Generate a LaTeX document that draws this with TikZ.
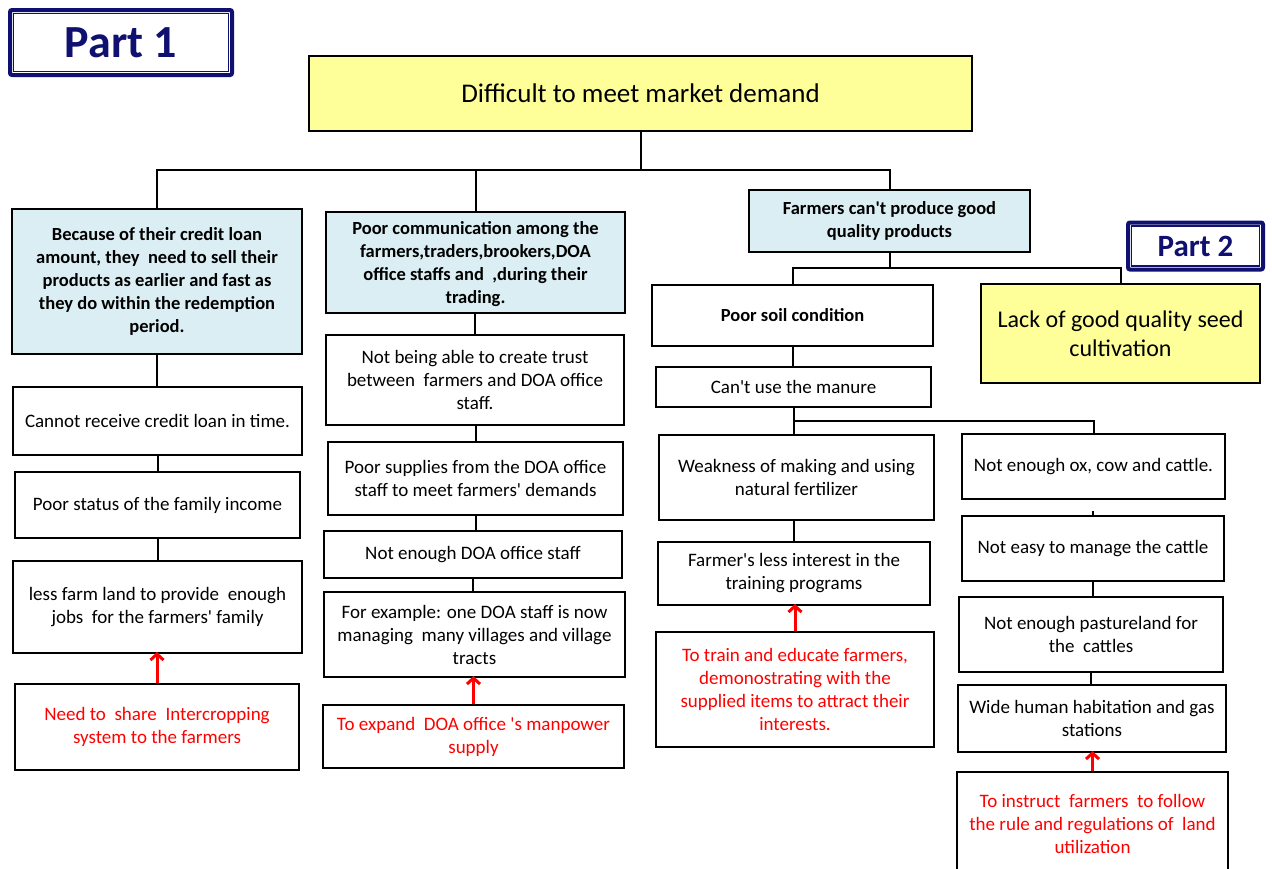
\documentclass[tikz,border=0pt]{standalone}
\usepackage{fontspec}
\setmainfont{Carlito}
\usetikzlibrary{arrows.meta}
\definecolor{seedyellow}{RGB}{255,255,153}
\definecolor{headblue}{RGB}{219,238,244}
\definecolor{partnavy}{RGB}{16,16,112}
\newcommand\ap{\textquotesingle}
\tikzset{
  box/.style={draw=black, line width=2pt, fill=white, align=center, inner sep=2pt,
              font=\fontsize{19}{23}\selectfont},
  headbox/.style={box, fill=headblue, font=\bfseries\fontsize{18.5}{23}\selectfont},
  goalbox/.style={box, fill=seedyellow},
  fixbox/.style={box, text=red},
  link/.style={line width=2pt},
  lift/.style={draw=red, line width=3pt, -{Straight Barb[length=6pt,width=13pt]}},
  partbox/.style={draw=partnavy, line width=4pt, rounded corners=2pt, fill=white,
                  text=partnavy, font=\bfseries},
  partinner/.style={draw=partnavy, line width=1.2pt},
  wh/.style 2 args={minimum width=#1pt, minimum height=#2pt}
}
\begin{document}
\begin{tikzpicture}[x=1pt, y=-1pt]
\fill[white] (0,0) rectangle (1272,868);
\useasboundingbox (0,0) rectangle (1272,868);

% part labels: thick outer frame with a thin inner frame
\node[partbox, wh={222}{65}, font=\bfseries\fontsize{46}{50}\selectfont] (part1) at (121,42.5) {Part 1};
\draw[partinner] ([shift={(5.5,5.5)}]part1.north west) rectangle ([shift={(-5.5,-5.5)}]part1.south east);
\node[partbox, wh={135}{47}, font=\bfseries\fontsize{31}{34}\selectfont] (part2) at (1195.5,246) {Part 2};
\draw[partinner] ([shift={(5.5,5.5)}]part2.north west) rectangle ([shift={(-5.5,-5.5)}]part2.south east);

% root problem
\node[goalbox, wh={663}{75}, font=\fontsize{27}{30}\selectfont] (top) at (640.5,93.5) {Difficult to meet market demand};

% main causes
\node[headbox, wh={290}{145}] (c1) at (157,281.5) {Because of their credit loan\\ amount, they\ \ need to sell their\\ products as earlier and fast as\\ they do within the redemption\\ period.};
\node[headbox, wh={299}{101}] (c2) at (475.5,262.5) {\rule{0pt}{16pt}Poor communication among the\\ farmers,traders,brookers,DOA\\ office staffs and\ \ ,during their\\ trading.};
\node[headbox, wh={281}{62}] (c3) at (889.5,221) {Farmers can\ap t produce good\\ quality products};

% branch 1
\node[box, wh={289}{68}] (cannot) at (157.5,421) {Cannot receive credit loan in time.};
\node[box, wh={285}{66}] (status) at (157.5,505) {Poor status of the family income};
\node[box, wh={289}{92}] (lessfarm) at (157.5,607) {less farm land to provide\ \ enough\\ jobs\ \ for the farmers\ap\ family};
\node[fixbox, wh={284}{86}] (need) at (157,727) {Need to\ \ share\ \ Intercropping\\ system to the farmers};

% branch 2
\node[box, wh={298}{90}] (trust) at (475,380) {Not being able to create trust\\ between\ \ farmers and DOA office\\ staff.};
\node[box, wh={295}{73}] (supplies) at (475.5,478.5) {Poor supplies from the DOA office\\ staff to meet farmers\ap\ demands};
\node[box, wh={298}{47}] (notenough) at (473,554.5) {Not enough DOA office staff};
\node[box, wh={301}{85}] (example) at (474.5,634.5) {For example: one DOA staff is now\\ managing\ \ many villages and village\\ tracts};
\node[fixbox, wh={301}{63}] (expand) at (473.5,736.5) {To expand\ \ DOA office \ap s manpower\\ supply};

% branch 3
\node[box, wh={281}{61}, font=\bfseries\fontsize{18.5}{23}\selectfont] (soil) at (792.5,315.5) {Poor soil condition};
\node[goalbox, wh={279}{99}, font=\fontsize{24}{29}\selectfont] (seed) at (1120.5,333.5) {Lack of good quality seed\\ cultivation};
\node[box, wh={275}{40}] (manure) at (793.5,387) {Can\ap t use the manure};
\node[box, wh={275}{85}] (weak) at (796.5,477.5) {Weakness of making and using\\ natural fertilizer};
\node[box, wh={272}{63}] (interest) at (794,573.5) {Farmer\ap s less interest in the\\ training programs};
\node[fixbox, wh={278}{115}] (train) at (795,689.5) {To train and educate farmers,\\ demonostrating with the\\ supplied items to attract their\\ interests.};
\node[box, wh={263}{65}] (ox) at (1093.5,466.5) {Not enough ox, cow and cattle.};
\node[box, wh={262}{65}] (manage) at (1093,548.5) {Not easy to manage the cattle};
\node[box, wh={264}{75}] (pasture) at (1091,634.5) {Not enough pastureland for\\ the\ \ cattles};
\node[box, wh={268}{67}] (habit) at (1092,718.5) {Wide human habitation and gas\\ stations};
\node[fixbox, wh={271}{104}] (instruct) at (1092.5,824) {To instruct\ \ farmers\ \ to follow\\ the rule and regulations of\ \ land\\ utilization};

% tree junctions
\coordinate (j1) at (641,170);
\coordinate (j2) at (890,268);
\coordinate (j3) at (793.5,421);
\coordinate (stub) at (1093,511);

\draw[link] (top.south) -- (top.south |- j1);
\draw[link] (c1.north) |- (j1) -| (c3.north);
\draw[link] (c2.north) -- (c2.north |- j1);

\draw[link] (c3.south) -- (c3.south |- j2);
\draw[link] (soil.north) |- (j2) -| (seed.north);

\draw[link] (c1.south) -- (c1.south |- cannot.north);
\draw[link] (cannot.south) -- (cannot.south |- status.north);
\draw[link] (status.south) -- (status.south |- lessfarm.north);

\draw[link] (trust.north) -- (trust.north |- c2.south);
\draw[link] (supplies.north) -- (supplies.north |- trust.south);
\draw[link] (supplies.south) -- (supplies.south |- notenough.north);
\draw[link] (notenough.south) -- (notenough.south |- example.north);

\draw[link] (soil.south) -- (soil.south |- manure.north);
\draw[link] (manure.south) -- (manure.south |- weak.north);
\draw[link] (j3) -| (ox.north);
\draw[link] (interest.north) -- (interest.north |- weak.south);
\draw[link] (stub) -- (manage.north);
\draw[link] (manage.south) -- (manage.south |- pasture.north);
\draw[link] (pasture.south) -- (pasture.south |- habit.north);

% remedies
\draw[lift] (need.north) -- ([yshift=2pt]need.north |- lessfarm.south);
\draw[lift] (expand.north) -- ([yshift=2pt]expand.north |- example.south);
\draw[lift] (train.north) -- ([yshift=2pt]train.north |- interest.south);
\draw[lift] (instruct.north) -- ([yshift=2pt]instruct.north |- habit.south);
\end{tikzpicture}
\end{document}
